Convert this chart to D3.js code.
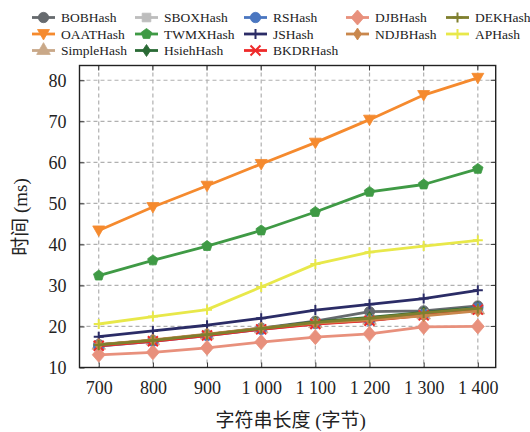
<!DOCTYPE html>
<html><head><meta charset="utf-8">
<script src="https://cdn.jsdelivr.net/npm/d3@7"></script>
<style>body{margin:0;background:#fff}svg{display:block}</style>
</head><body>
<script>
const xValues = [700, 800, 900, 1000, 1100, 1200, 1300, 1400];
const xTickLabels = ["700", "800", "900", "1 000", "1 100", "1 200", "1 300", "1 400"];
const yTicks = [10, 20, 30, 40, 50, 60, 70, 80];
const seriesNames = ["BOBHash","OAATHash","SimpleHash","SBOXHash","TWMXHash","HsiehHash","RSHash","JSHash","BKDRHash","DJBHash","NDJBHash","DEKHash","APHash"];
const BOBHash    = [15.6, 16.6, 18.0, 19.6, 21.3, 23.6, 23.8, 25.0];
const OAATHash   = [43.4, 49.1, 54.3, 59.6, 64.8, 70.4, 76.4, 80.6];
const SimpleHash = [15.4, 16.5, 17.9, 19.4, 20.7, 21.5, 22.8, 24.0];
const SBOXHash   = [15.3, 16.5, 17.9, 19.4, 20.8, 21.7, 23.0, 24.3];
const TWMXHash   = [32.4, 36.1, 39.6, 43.4, 47.9, 52.8, 54.6, 58.4];
const HsiehHash  = [15.5, 16.6, 18.0, 19.5, 21.1, 22.2, 23.4, 24.6];
const RSHash     = [15.2, 16.4, 17.8, 19.3, 20.7, 21.5, 22.9, 24.5];
const JSHash     = [17.5, 18.9, 20.3, 22.0, 24.0, 25.4, 26.8, 28.8];
const BKDRHash   = [15.3, 16.4, 17.8, 19.3, 20.6, 21.4, 22.7, 24.1];
const DJBHash    = [13.1, 13.7, 14.8, 16.2, 17.4, 18.2, 19.9, 20.0];
const NDJBHash   = [15.6, 16.7, 18.1, 19.6, 20.8, 21.6, 22.6, 23.8];
const DEKHash    = [15.5, 16.6, 18.0, 19.5, 21.0, 22.0, 23.3, 24.4];
const APHash     = [20.6, 22.4, 24.1, 29.6, 35.2, 38.1, 39.6, 41.0];
const seriesValues = [BOBHash,OAATHash,SimpleHash,SBOXHash,TWMXHash,HsiehHash,RSHash,JSHash,BKDRHash,DJBHash,NDJBHash,DEKHash,APHash];

const styles = {
  BOBHash:   {c:"#666a6e", m:"circle"},
  OAATHash:  {c:"#f58a2e", m:"tridown"},
  SimpleHash:{c:"#c9a888", m:"star"},
  SBOXHash:  {c:"#bdbdbd", m:"square"},
  TWMXHash:  {c:"#3f9a45", m:"pentagon"},
  HsiehHash: {c:"#2a6a35", m:"thindiamond"},
  RSHash:    {c:"#4a76c0", m:"circle"},
  JSHash:    {c:"#2b2c66", m:"plus"},
  BKDRHash:  {c:"#ee2a2a", m:"x"},
  DJBHash:   {c:"#e8907c", m:"diamond"},
  NDJBHash:  {c:"#c9874c", m:"thindiamond"},
  DEKHash:   {c:"#7f7f2e", m:"plus"},
  APHash:    {c:"#e8e84a", m:"plus"}
};
const legendOrder = [
  ["BOBHash","SBOXHash","RSHash","DJBHash","DEKHash"],
  ["OAATHash","TWMXHash","JSHash","NDJBHash","APHash"],
  ["SimpleHash","HsiehHash","BKDRHash"]
];

const W = 530, H = 432;
const svg = d3.select("body").append("svg").attr("width", W).attr("height", H);
const pL = 79.5, pR = 495.7, pT = 65.5, pB = 367.5;
const x = d3.scaleLinear().domain([664.5, 1433]).range([pL, pR]);
const y = d3.scaleLinear().domain([10, 83.6]).range([pB, pT]);
const serif = "'Liberation Serif','Times New Roman','Noto Sans CJK SC',serif";

function markerPath(m) {
  switch (m) {
    case "circle": return d3.symbol(d3.symbolCircle, 85)();
    case "square": return d3.symbol(d3.symbolSquare, 75)();
    case "star": return d3.symbol(d3.symbolTriangle, 80)();
    case "tridown": return "M-6,-4.5L6,-4.5L0,6Z";
    case "diamond": return "M0,-7.5L6.5,0L0,7.5L-6.5,0Z";
    case "thindiamond": return "M0,-6L4,0L0,6L-4,0Z";
    case "pentagon": {
      const r = 5.5; let p = [];
      for (let i = 0; i < 5; i++) { const a = -Math.PI/2 + i*2*Math.PI/5; p.push([r*Math.cos(a), r*Math.sin(a)]); }
      return "M" + p.map(d => d.join(",")).join("L") + "Z";
    }
    case "plus": return "M-5,0H5M0,-5V5";
    case "x": return "M-5,-5L5,5M-5,5L5,-5";
  }
}
const stroked = m => (m === "plus" || m === "x");

// grid
const grid = svg.append("g").attr("stroke", "#b0b0b0").attr("stroke-width", 1.2).attr("stroke-dasharray", "4,3");
xValues.forEach(v => grid.append("line").attr("x1", x(v)).attr("x2", x(v)).attr("y1", pT).attr("y2", pB));
yTicks.forEach(v => { if (v > 10) grid.append("line").attr("x1", pL).attr("x2", pR).attr("y1", y(v)).attr("y2", y(v)); });

// axes via d3
const xAxis = d3.axisBottom(x).tickValues(xValues).tickFormat((d, i) => xTickLabels[i]).tickSize(-5).tickPadding(14);
const gx = svg.append("g").attr("transform", `translate(0,${pB})`).call(xAxis);
const yAxis = d3.axisLeft(y).tickValues(yTicks).tickFormat(d3.format("d")).tickSize(-5).tickPadding(13);
const gy = svg.append("g").attr("transform", `translate(${pL},0)`).call(yAxis);
[gx, gy].forEach(g => {
  g.select(".domain").remove();
  g.selectAll("line").attr("stroke", "#333");
  g.selectAll("text").attr("font-family", serif).attr("font-size", 18).attr("fill", "#222");
});
// top/right ticks
xValues.forEach(v => svg.append("line").attr("x1", x(v)).attr("x2", x(v)).attr("y1", pT).attr("y2", pT+5).attr("stroke", "#333"));
yTicks.forEach(v => svg.append("line").attr("x1", pR).attr("x2", pR-5).attr("y1", y(v)).attr("y2", y(v)).attr("stroke", "#333"));

// lines
const line = d3.line().x((d, i) => x(xValues[i])).y(d => y(d));
seriesNames.forEach((name, k) => {
  const st = styles[name];
  const g = svg.append("g");
  g.append("path").datum(seriesValues[k]).attr("d", line).attr("fill", "none").attr("stroke", st.c).attr("stroke-width", 2.8).attr("stroke-linejoin", "round");
  g.selectAll("path.mk").data(seriesValues[k]).enter().append("path").attr("class", "mk")
    .attr("transform", (d, i) => `translate(${x(xValues[i])},${y(d)})`)
    .attr("d", markerPath(st.m))
    .attr("fill", stroked(st.m) ? "none" : st.c)
    .attr("stroke", st.c).attr("stroke-width", stroked(st.m) ? 2 : 0.8);
});

// frame
svg.append("rect").attr("x", pL).attr("y", pT).attr("width", pR-pL).attr("height", pB-pT)
  .attr("fill", "none").attr("stroke", "#222").attr("stroke-width", 1.4);

// axis titles
svg.append("text").attr("x", (pL+pR)/2 + 3).attr("y", 427).attr("text-anchor", "middle")
  .attr("font-family", serif).attr("font-size", 19).attr("fill", "#222").text("字符串长度 (字节)");
svg.append("text").attr("transform", "translate(27,217) rotate(-90)").attr("text-anchor", "middle")
  .attr("font-family", serif).attr("font-size", 19).attr("fill", "#222").text("时间 (ms)");

// legend
const colLine = [32, 135, 244, 346, 446];
const rowY = [17.5, 34, 50.5];
legendOrder.forEach((row, r) => row.forEach((name, c) => {
  const st = styles[name];
  const g = svg.append("g").attr("transform", `translate(${colLine[c]},${rowY[r]})`);
  g.append("line").attr("x1", 0).attr("x2", 23).attr("stroke", st.c).attr("stroke-width", 2.8);
  g.append("path").attr("transform", "translate(11.5,0)").attr("d", markerPath(st.m))
    .attr("fill", stroked(st.m) ? "none" : st.c).attr("stroke", st.c).attr("stroke-width", stroked(st.m) ? 2 : 0.8);
  g.append("text").attr("x", 29).attr("y", 0).attr("dy", "0.35em").attr("font-family", serif)
    .attr("font-size", 13.5).attr("fill", "#222").text(name);
}));
</script>
</body></html>
